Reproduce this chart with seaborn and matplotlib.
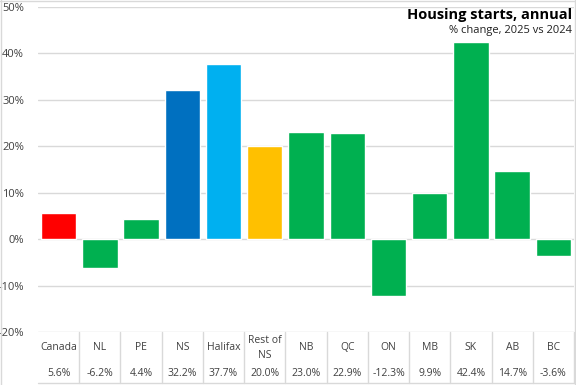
import matplotlib
matplotlib.use("Agg")
import matplotlib.pyplot as plt
import seaborn as sns
import pandas as pd
from matplotlib.lines import Line2D

categories = ["Canada", "NL", "PE", "NS", "Halifax", "Rest of\nNS", "NB", "QC", "ON", "MB", "SK", "AB", "BC"]
values = [5.6, -6.2, 4.4, 32.2, 37.7, 20.0, 23.0, 22.9, -12.3, 9.9, 42.4, 14.7, -3.6]
colors = ["#FF0000", "#00B050", "#00B050", "#0070C0", "#00B0F0", "#FFC000",
          "#00B050", "#00B050", "#00B050", "#00B050", "#00B050", "#00B050", "#00B050"]
yticks = [-20, -10, 0, 10, 20, 30, 40, 50]
title = "Housing starts, annual"
subtitle = "% change, 2025 vs 2024"

sns.set_theme(style="white")
plt.rcParams["font.family"] = ["Open Sans", "DejaVu Sans"]

df = pd.DataFrame({"cat": categories, "val": values})

fig = plt.figure(figsize=(5.76, 3.85), dpi=100)
W, H = 576, 385
ax = fig.add_axes([38 / W, 1 - 332 / H, (574 - 38) / W, (332 - 7) / H])
sns.barplot(data=df, x="cat", y="val", hue="cat", palette=colors, legend=False,
            width=0.86, saturation=1, ax=ax, zorder=3)

ax.set_ylim(-20, 50)
ax.set_yticks(yticks)
ax.set_yticklabels([f"{t}%" for t in yticks], fontsize=8, color="#404040")
ax.tick_params(axis="y", length=0, pad=10)
ax.set_xticks([])
ax.set_xlabel("")
ax.set_ylabel("")
ax.set_xlim(-0.5, len(categories) - 0.5)
for s in ax.spines.values():
    s.set_visible(False)
for t in yticks:
    ax.axhline(t, color="#d9d9d9", lw=1, zorder=1)

# table below the axes
grid_c = "#d9d9d9"
n = len(categories)
ybot = 1 - 383 / H
ytop = 1 - 332 / H
x0 = 38 / W
x1 = 574 / W
colw = (x1 - x0) / n
for i in range(1, n + 1):
    xx = x0 + i * colw
    fig.add_artist(Line2D([xx, xx], [ybot, ytop], color=grid_c, lw=1))
fig.add_artist(Line2D([x0, x1], [ybot, ybot], color=grid_c, lw=1))
for i, (c, v) in enumerate(zip(categories, values)):
    xc = x0 + (i + 0.5) * colw
    fig.text(xc, 1 - 348 / H, c, ha="center", va="center", fontsize=7.5,
             color="#404040", linespacing=1.6)
    fig.text(xc, 1 - 374 / H, f"{v:.1f}%", ha="center", va="center", fontsize=7.5,
             color="#404040")

# outer frame
fig.add_artist(Line2D([0.5 / W, 0.5 / W], [0, 1], color=grid_c, lw=1))
fig.add_artist(Line2D([0, 1], [1 - 0.5 / H, 1 - 0.5 / H], color=grid_c, lw=1))
fig.add_artist(Line2D([575 / W, 575 / W], [0, 1], color=grid_c, lw=1))

fig.text(572 / W, 1 - 15 / H, title, ha="right", va="center", fontsize=10.5,
         fontweight="bold", color="black",
         family=["Liberation Sans Narrow", "Open Sans", "DejaVu Sans"])
fig.text(572 / W, 1 - 31 / H, subtitle, ha="right", va="center", fontsize=8,
         color="#202020")

fig.savefig("out.png", dpi=100)
